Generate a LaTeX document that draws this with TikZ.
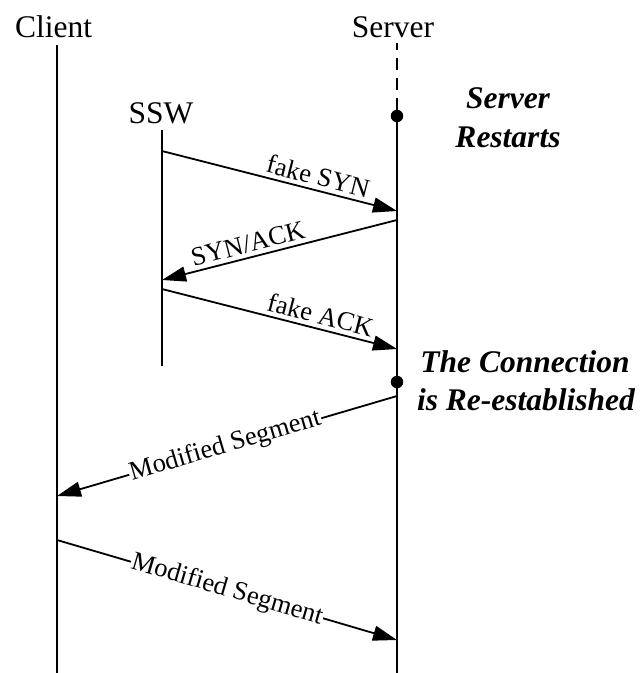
\documentclass[tikz,border=0pt]{standalone}
\usepackage{fontspec}
\setmainfont{Liberation Serif}
\usetikzlibrary{arrows.meta}
\begin{document}
\begin{tikzpicture}[x=1pt,y=-1pt,
  lifeline/.style={line width=1.8pt},
  msg/.style={line width=1.8pt,-{Triangle[length=24pt,width=15pt]}},
  actor/.style={font=\fontsize{31.5}{36}\selectfont, anchor=base, inner sep=0pt},
  note/.style={font=\fontsize{31.5}{38}\selectfont\bfseries\itshape, anchor=base, inner sep=0pt},
  msglabel/.style={font=\fontsize{26.5}{30}\selectfont, sloped, above, inner sep=4pt},
  inlabel/.style={font=\fontsize{26.5}{30}\selectfont, sloped, fill=white, inner sep=1pt},
  event/.style={circle, fill=black, inner sep=0pt, minimum size=12.5pt}
]
\useasboundingbox (0,0) rectangle (640,673);

% participants
\node[actor] (client) at (53.5,37) {Client};
\node[actor] (server) at (393,37) {Server};
\node[actor] (ssw) at (161,123) {SSW};

% annotations
\node[note] (restart1) at (508,108) {Server};
\node[note] (restart2) at (508,147) {Restarts};
\node[note] (conn1) at (525,372) {The Connection};
\node[note] (conn2) at (526,410) {is Re-established};

% lifeline end points
\coordinate (cTop) at (57,45);
\coordinate (cBot) at (57,673);
\coordinate (sTop) at (397,43);
\coordinate (sBot) at (397,673);
\coordinate (wTop) at (162,130);
\coordinate (wBot) at (162,366);

% events on the server lifeline
\node[event] (restart) at (397,116) {};
\node[event] (reest) at (397,382) {};

% lifelines
\draw[lifeline] (cTop) -- (cBot);
\draw[lifeline, dash pattern=on 12pt off 8pt, dash phase=5pt] (sTop) -- (restart.center);
\draw[lifeline] (restart.center) -- (sBot);
\draw[lifeline] (wTop) -- (wBot);

% message end points
\coordinate (m1s) at (162,151);
\coordinate (m1e) at (397,211);
\coordinate (m2s) at (397,220);
\coordinate (m2e) at (162,280);
\coordinate (m3s) at (162,289);
\coordinate (m3e) at (397,349);
\coordinate (m4s) at (397,396);
\coordinate (m4e) at (57,496);
\coordinate (m5s) at (57,540);
\coordinate (m5e) at (397,640);

% messages
\draw[msg] (m1s) -- node[msglabel, pos=0.65] (l1) {fake SYN} (m1e);
\draw[msg] (m2s) -- node[msglabel, pos=0.62] (l2) {SYN/ACK} (m2e);
\draw[msg] (m3s) -- node[msglabel, pos=0.66] (l3) {fake ACK} (m3e);
\draw[msg] (m4s) -- node[inlabel, pos=0.505] (l4) {Modified Segment} (m4e);
\draw[msg] (m5s) -- node[inlabel, pos=0.5] (l5) {Modified Segment} (m5e);
\end{tikzpicture}
\end{document}
